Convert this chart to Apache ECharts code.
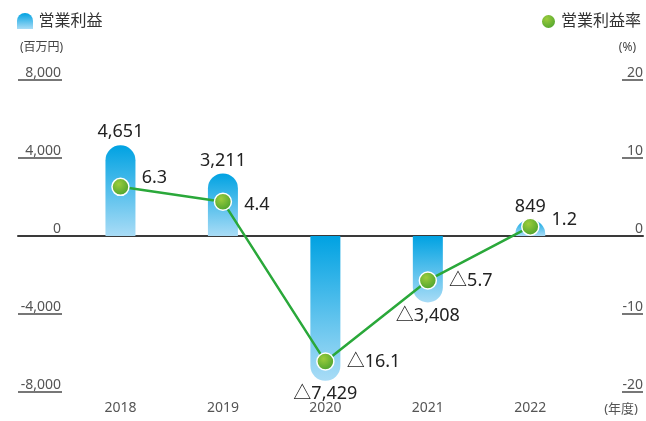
<!DOCTYPE html>
<html><head><meta charset="utf-8">
<script src="https://cdn.jsdelivr.net/npm/echarts@6/dist/echarts.min.js"></script>
<style>html,body{margin:0;padding:0;background:#fff}#c{width:646px;height:421px}</style>
</head><body><div id="c"></div>
<script>
const categories = ['2018', '2019', '2020', '2021', '2022'];
const operatingProfit = [4651, 3211, -7429, -3408, 849];
const operatingMargin = [6.3, 4.4, -16.1, -5.7, 1.2];
const profitAxis = { min: -8000, max: 8000, step: 4000 };
const marginAxis = { min: -20, max: 20, step: 10 };
const seriesNames = ['営業利益', '営業利益率'];
const unitTexts = ['(百万円)', '(%)', '(年度)'];
// label style tweaks (not data)
const marginLabelOffsets = [[0, -9], [0, 3], [0, 0], [0, 0], [0, -7]];

const FONT = "'Noto Sans', 'Noto Sans CJK JP', sans-serif";
const fmtNum = v => (v < 0 ? '△' : '') + Math.abs(v).toLocaleString('en-US');
const fmtPct = v => (v < 0 ? '△' : '') + Math.abs(v).toFixed(1);

const barGrad = new echarts.graphic.LinearGradient(0, 0, 0, 1, [
  { offset: 0, color: '#00a2e2' }, { offset: 1, color: '#a9dcf6' }]);
const dotGrad = new echarts.graphic.RadialGradient(0.4, 0.35, 0.75, [
  { offset: 0, color: '#9ccc3c' }, { offset: 1, color: '#3f9c2c' }]);

const TOP = 80, BOTTOM = 29;
const hiddenX = gi => ({ type: 'value', gridIndex: gi, min: 0, max: 1, show: false });
const tickY = (gi, ax, extra) => Object.assign({
  type: 'value', gridIndex: gi, min: ax.min, max: ax.max, interval: ax.step,
  position: 'right', axisLine: { show: false }, axisTick: { show: false },
  splitLine: { show: true, lineStyle: { color: '#4a4a4a', width: 1.5 } }
}, extra);

const chart = echarts.init(document.getElementById('c'), null, { renderer: 'canvas' });
const xCommon = { type: 'value', min: -1, max: 5.1, gridIndex: 0, splitLine: { show: false } };
chart.setOption({
  animation: false,
  textStyle: { fontFamily: FONT },
  title: [
    { text: unitTexts[0], left: 15, top: 37, textStyle: { fontSize: 12, fontWeight: 'normal', color: '#444', fontFamily: FONT } },
    { text: unitTexts[1], right: 5, top: 37, textStyle: { fontSize: 12, fontWeight: 'normal', color: '#444', fontFamily: FONT } },
    { text: unitTexts[2], right: 3, top: 398, textStyle: { fontSize: 13, fontWeight: 'normal', color: '#555', fontFamily: FONT } }
  ],
  legend: [
    { data: [{ name: seriesNames[0], icon: 'path://M0,8 A8,8 0 0,1 16,8 L16,16 L0,16 Z' }],
      left: 12, top: 8, itemWidth: 17, itemHeight: 16, itemGap: 6,
      textStyle: { fontSize: 16, color: '#333', fontFamily: FONT } },
    { data: [{ name: seriesNames[1], icon: 'circle' }],
      right: 0, top: 8, itemWidth: 15, itemHeight: 15,
      textStyle: { fontSize: 16, color: '#333', fontFamily: FONT } }
  ],
  grid: [
    { left: 18, right: 3, top: TOP, bottom: BOTTOM, containLabel: false },
    { left: 18, width: 44, top: TOP, bottom: BOTTOM, containLabel: false },
    { left: 622, right: 3, top: TOP, bottom: BOTTOM, containLabel: false }
  ],
  xAxis: [
    Object.assign({}, xCommon, {
      axisLine: { show: true, onZero: true, lineStyle: { color: '#3a3a3a', width: 2 } },
      axisTick: { show: false }, axisLabel: { show: false }
    }),
    Object.assign({}, xCommon, {
      position: 'bottom', interval: 1,
      axisLine: { show: false, onZero: false }, axisTick: { show: false },
      axisLabel: { show: true, margin: 9, fontSize: 14, color: '#555',
        formatter: v => (Number.isInteger(v) && categories[v] !== undefined) ? categories[v] : '' }
    }),
    hiddenX(1),
    hiddenX(2)
  ],
  yAxis: [
    { type: 'value', gridIndex: 0, min: profitAxis.min, max: profitAxis.max, interval: profitAxis.step, show: false },
    { type: 'value', gridIndex: 0, min: marginAxis.min, max: marginAxis.max, interval: marginAxis.step, show: false },
    tickY(1, profitAxis, {
      axisLabel: { inside: true, margin: 1, align: 'right', verticalAlign: 'bottom', fontSize: 14, color: '#555',
        formatter: v => v.toLocaleString('en-US') } }),
    tickY(2, marginAxis, {
      axisLabel: { inside: true, margin: 0, align: 'right', verticalAlign: 'bottom', fontSize: 14, color: '#555' } })
  ],
  series: [
    { name: seriesNames[0], type: 'bar', xAxisIndex: 0, yAxisIndex: 0, barWidth: 30,
      itemStyle: { color: barGrad },
      label: { show: true, fontSize: 18, color: '#222', distance: 4,
        formatter: p => fmtNum(p.value[1]) },
      data: operatingProfit.map((v, i) => ({
        value: [i, v],
        itemStyle: { borderRadius: v >= 0 ? [15, 15, 0, 0] : [0, 0, 15, 15] },
        label: { position: v >= 0 ? 'top' : 'bottom' }
      })), z: 2 },
    { name: seriesNames[1], type: 'line', xAxisIndex: 0, yAxisIndex: 1,
      symbol: 'circle', symbolSize: 17,
      lineStyle: { color: '#2aa83a', width: 2.5 },
      itemStyle: { color: dotGrad, borderColor: '#fff', borderWidth: 1.5 },
      label: { show: true, position: 'right', distance: 12, fontSize: 18, color: '#222',
        formatter: p => fmtPct(p.value[1]) },
      data: operatingMargin.map((v, i) => ({
        value: [i, v], label: { offset: marginLabelOffsets[i] }
      })), z: 5 }
  ]
});
</script></body></html>
